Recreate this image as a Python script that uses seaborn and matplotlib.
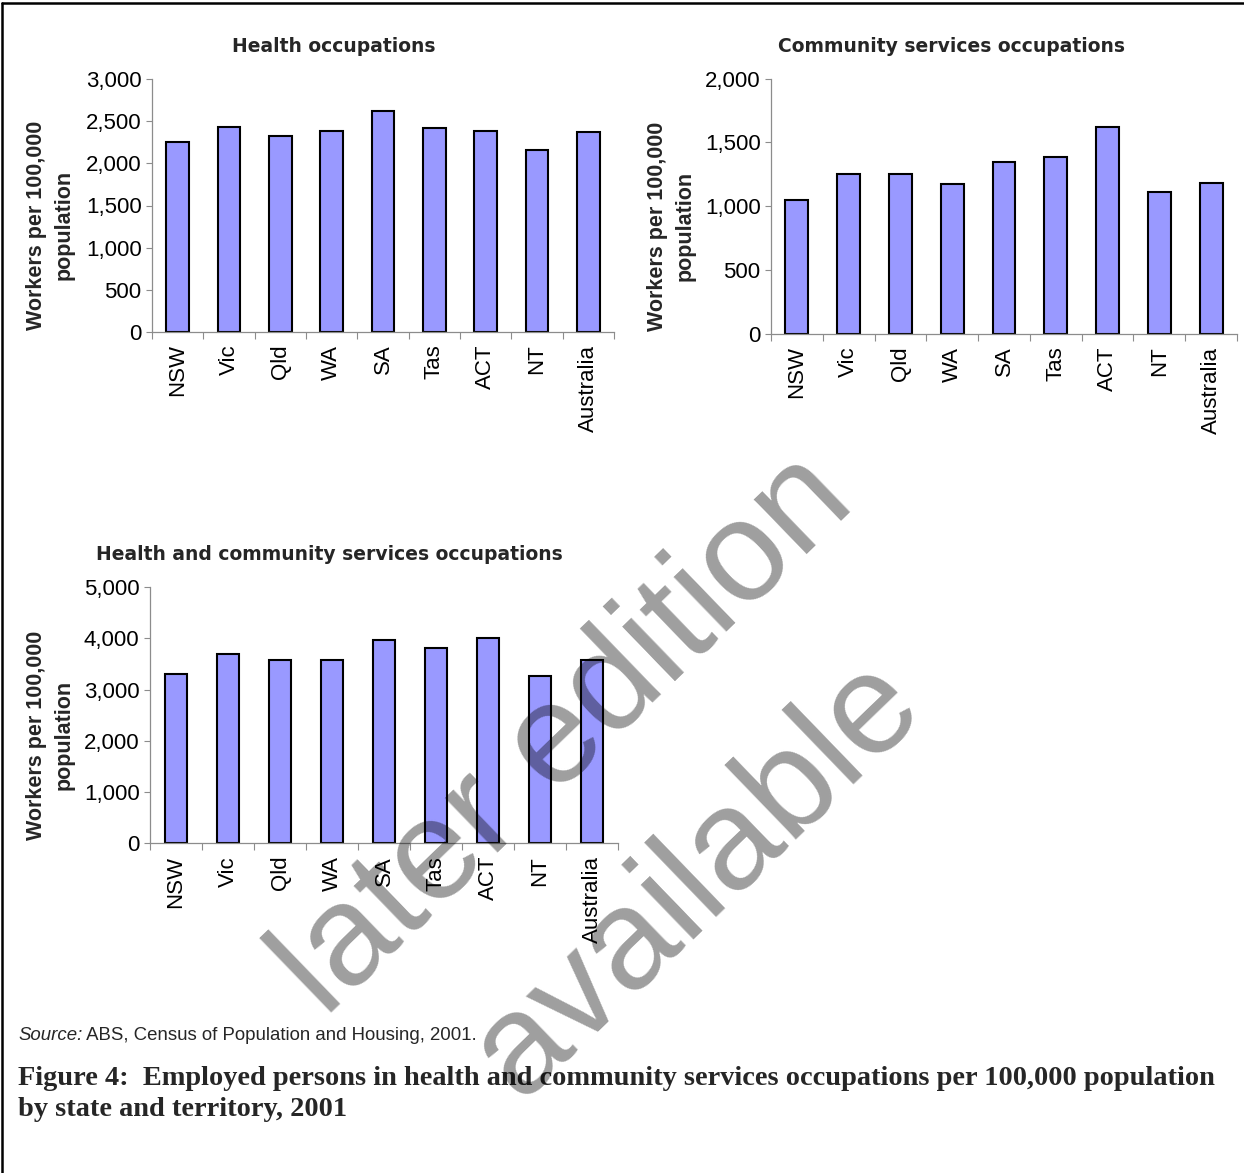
import matplotlib
matplotlib.use("Agg")
import matplotlib.pyplot as plt
from matplotlib.lines import Line2D
from matplotlib.ticker import FuncFormatter, FixedLocator
import seaborn as sns
import pandas as pd

# ---- data ----
states = ["NSW", "Vic", "Qld", "WA", "SA", "Tas", "ACT", "NT", "Australia"]
health = [2248, 2434, 2319, 2387, 2624, 2414, 2387, 2153, 2367]
community = [1046, 1249, 1249, 1171, 1346, 1387, 1622, 1108, 1184]
health_community = [3298, 3688, 3577, 3577, 3967, 3811, 4000, 3265, 3577]

titles = ["Health occupations", "Community services occupations",
          "Health and community services occupations"]
ylabel = "Workers per 100,000\npopulation"
source_italic = "Source:"
source_rest = " ABS, Census of Population and Housing, 2001."
caption = ("Figure 4:  Employed persons in health and community services occupations per 100,000 population\n"
           "by state and territory, 2001")
watermark_lines = ["later edition", "available"]

sns.set_theme(style="white")
plt.rcParams["font.family"] = ["Liberation Sans", "DejaVu Sans"]

W, H = 1244, 1173
fig = plt.figure(figsize=(W / 100, H / 100), dpi=100)
fig.patch.set_facecolor("white")

def fx(px):
    return px / W

def fy(py):
    return 1 - py / H

panels = [
    dict(l=152, r=614, t=79, b=332, vals=health, ymax=3000, step=500,
         tx=334, ty=46, ylx=50, yly=225),
    dict(l=771, r=1237, t=78.5, b=334, vals=community, ymax=2000, step=500,
         tx=951, ty=46, ylx=671, yly=226),
    dict(l=150, r=618, t=587, b=843.3, vals=health_community, ymax=5000, step=1000,
         tx=329, ty=555, ylx=50, yly=735),
]

fmt = FuncFormatter(lambda v, p: f"{int(v):,}")
spine_col = "#8c8c8c"

for i, p in enumerate(panels):
    ax = fig.add_axes([fx(p["l"]), fy(p["b"]), fx(p["r"] - p["l"]), (p["b"] - p["t"]) / H])
    df = pd.DataFrame({"state": states, "value": p["vals"]})
    sns.barplot(data=df, x="state", y="value", color="#9999FF", saturation=1,
                edgecolor="black", linewidth=1.5, width=0.44, ax=ax)
    ax.set_xlim(-0.5, len(states) - 0.5)
    ax.set_ylim(0, p["ymax"])
    ax.set_yticks(list(range(0, p["ymax"] + 1, p["step"])))
    ax.yaxis.set_major_formatter(fmt)
    ax.set_xlabel("")
    ax.set_ylabel("")
    for s in ["top", "right"]:
        ax.spines[s].set_visible(False)
    for s in ["left", "bottom"]:
        ax.spines[s].set_color(spine_col)
        ax.spines[s].set_linewidth(0.9)
    ax.tick_params(axis="y", which="major", left=True, length=4.5, width=0.8,
                   color=spine_col, pad=3, labelsize=16, labelcolor="black")
    ax.tick_params(axis="x", which="major", bottom=True, length=0, pad=9,
                   labelsize=16, labelcolor="black", labelrotation=90)
    ax.xaxis.set_minor_locator(FixedLocator([k - 0.5 for k in range(len(states) + 1)]))
    ax.tick_params(axis="x", which="minor", bottom=True, length=5, width=0.8, color=spine_col)
    for lab in ax.get_xticklabels():
        lab.set_va("top")
        lab.set_ha("center")
    ax.set_facecolor("white")
    ax.grid(False)
    fig.text(fx(p["tx"]), fy(p["ty"]), titles[i], ha="center", va="center",
             fontsize=13.5, fontweight="bold", family=["DejaVu Sans"])
    fig.text(fx(p["ylx"]), fy(p["yly"]), ylabel, rotation=90,
             ha="center", va="center", multialignment="center",
             fontsize=15.5, fontweight="bold", linespacing=1.42)

# source line
t1 = fig.text(fx(18), fy(1035), source_italic, ha="left", va="center",
              fontsize=13.4, fontstyle="italic")
fig.canvas.draw()
bb = t1.get_window_extent()
fig.text(bb.x1 / W, fy(1035), source_rest, ha="left", va="center", fontsize=13.4)

# caption
fig.text(fx(18), fy(1094), caption, ha="left", va="center", fontsize=20.4,
         fontweight="bold", family=["Liberation Serif", "DejaVu Serif"], linespacing=1.3)

# watermark (two lines)
wm_pos = [(566, 736), (698, 878)]
for txt, (wx, wy) in zip(watermark_lines, wm_pos):
    fig.text(fx(wx), fy(wy), txt, ha="center", va="center",
             rotation=44, fontsize=103, color="black", alpha=0.38,
             rotation_mode="anchor", zorder=10)

# border (top and left)
fig.add_artist(Line2D([fx(2), fx(2)], [0, fy(2.5)], transform=fig.transFigure,
                      color="black", lw=1.8))
fig.add_artist(Line2D([fx(2), 1], [fy(2.5), fy(2.5)], transform=fig.transFigure,
                      color="black", lw=1.8))

fig.savefig("out.png", dpi=100, facecolor="white")
